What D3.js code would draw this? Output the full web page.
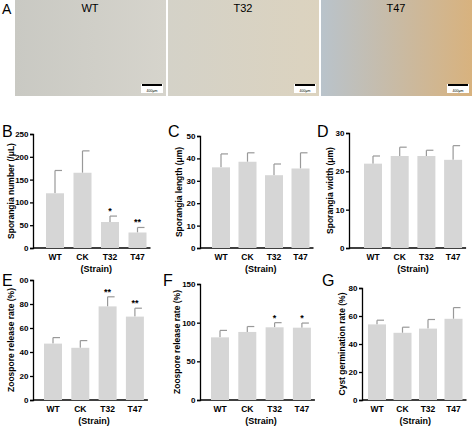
<!DOCTYPE html><html><head><meta charset="utf-8"><script src="https://cdn.jsdelivr.net/npm/d3@7"></script>
<style>body{margin:0;background:#fff}text{font-family:Arial,"Liberation Sans",sans-serif}</style></head><body><svg id="c" width="474" height="430"></svg>
<script>
const categories=["WT","CK","T32","T47"];
const imgTitles=["WT","T32","T47"];
const bMean=[120,165,57,34], bErr=[50,48,13,11], bSig=["","","*","**"];
const cMean=[36,38.5,32.5,35.5], cErr=[6,4,5,7];
const dMean=[22,24,24,23], dErr=[2,2.3,1.5,3.7];
const eMean=[47,43.5,78,69.5], eErr=[5,6,8,7], eSig=["","","**","**"];
const fMean=[81,88,94,93.5], fErr=[9,7,6,6], fSig=["","","*","*"];
const gMean=[54,48,51,58], gErr=[3,4,6.5,8];
const bTicks=[0,50,100,150,200,250], cTicks=[0,10,20,30,40,50], dTicks=[0,10,20,30];
const eTicks=[0,20,40,60,80,100], fTicks=[0,50,100,150], gTicks=[0,20,40,60,80];
const svg=d3.select("#c");
const defs=svg.append("defs");
const grads=[["#c9c9c3","#d6d4cc"],["#d4d2c8","#dcd3bf"],["#b9c3cb","#d8b27e"]];
grads.forEach((g,i)=>{const lg=defs.append("linearGradient").attr("id","g"+i);lg.append("stop").attr("offset","0").attr("stop-color",g[0]);lg.append("stop").attr("offset","1").attr("stop-color",g[1]);});
const ix=[15,168,321];
imgTitles.forEach((t,i)=>{
 svg.append("rect").attr("x",ix[i]).attr("y",0).attr("width",151).attr("height",96).attr("fill",`url(#g${i})`);
 svg.append("text").attr("x",ix[i]+75).attr("y",12).attr("text-anchor","middle").attr("font-size",11).text(t);
 svg.append("rect").attr("x",ix[i]+126).attr("y",84).attr("width",22).attr("height",9).attr("fill","#fff");
 svg.append("line").attr("x1",ix[i]+127).attr("x2",ix[i]+147).attr("y1",85).attr("y2",85).attr("stroke","#000").attr("stroke-width",2);
 svg.append("text").attr("x",ix[i]+137).attr("y",92).attr("text-anchor","middle").attr("font-size",3.5).text("400μm");
});
svg.append("text").attr("x",2).attr("y",14).attr("font-size",14).text("A");
function panel(o){
 const g=svg.append("g");
 const y=d3.scaleLinear().domain([0,o.max]).range([o.y0,o.y1]);
 const x=d3.scalePoint().domain(categories).range([o.x0+o.off,o.x0+o.off+o.sp*3]);
 const bw=18;
 const ax=g.append("g").attr("transform",`translate(${o.x0},0)`).call(d3.axisLeft(y).tickValues(o.ticks).tickSize(3).tickPadding(1.5).tickFormat(o.fmt||d3.format("d")));
 ax.select(".domain").attr("stroke-width",1.3);
 ax.selectAll("text").attr("font-size",8).attr("font-weight","bold").attr("fill","#000");
 ax.selectAll(".tick line").attr("stroke-width",1.3);
 g.append("line").attr("x1",o.x0).attr("x2",o.x0+o.off+o.sp*3+13).attr("y1",o.y0).attr("y2",o.y0).attr("stroke","#000").attr("stroke-width",1.3);
 categories.forEach((c,i)=>{
  const cx=x(c);
  g.append("line").attr("x1",cx).attr("x2",cx).attr("y1",y(o.m[i])).attr("y2",y(o.m[i]+o.e[i])).attr("stroke","#999").attr("stroke-width",1.2);
  g.append("line").attr("x1",cx).attr("x2",cx+7).attr("y1",y(o.m[i]+o.e[i])).attr("y2",y(o.m[i]+o.e[i])).attr("stroke","#999").attr("stroke-width",1.2);
  g.append("rect").attr("x",cx-bw/2).attr("y",y(o.m[i])).attr("width",bw).attr("height",o.y0-y(o.m[i])).attr("fill","#d6d6d6");
  g.append("text").attr("x",cx).attr("y",o.y0+12).attr("text-anchor","middle").attr("font-size",8.5).attr("font-weight","bold").text(c);
  if(o.sig&&o.sig[i]) g.append("text").attr("x",cx).attr("y",y(o.m[i]+o.e[i])-2).attr("text-anchor","middle").attr("font-size",9).attr("font-weight","bold").text(o.sig[i]);
 });
 g.append("text").attr("x",(x("CK")+x("T32"))/2).attr("y",o.y0+24).attr("text-anchor","middle").attr("font-size",9).attr("font-weight","bold").text("(Strain)");
 g.append("text").attr("transform",`translate(${o.lx},${(o.y0+o.y1)/2}) rotate(-90)`).attr("text-anchor","middle").attr("font-size",8.5).attr("font-weight","bold").text(o.label);
 g.append("text").attr("x",o.Lx).attr("y",o.Ly).attr("font-size",16).text(o.L);
 if(o.tag) g.append("text").attr("x",o.x0+10).attr("y",o.y1+17).attr("font-size",13).attr("font-weight","bold").attr("font-family","Liberation Serif,serif").text(o.tag);
}
panel({x0:33,y0:248,y1:134,max:250,ticks:bTicks,m:bMean,e:bErr,sig:bSig,off:22,sp:27.5,label:"Sporangia number (/μL)",L:"B",lx:14,Lx:2,Ly:137});
panel({x0:200,y0:248,y1:136,max:50,ticks:cTicks,m:cMean,e:cErr,off:21,sp:26.5,label:"Sporangia length (μm)",L:"C",lx:182,Lx:168,Ly:137});
panel({x0:349,y0:248,y1:133,max:30,ticks:dTicks,m:dMean,e:dErr,off:24,sp:26.7,label:"Sporangia width (μm)",L:"D",lx:333,Lx:317,Ly:137});
panel({x0:33,y0:400,y1:280,max:100,ticks:eTicks,m:eMean,e:eErr,sig:eSig,off:20,sp:27.3,label:"Zoospore release rate (%)",L:"E",lx:14,Lx:2,Ly:286,fmt:d=>d===100?"00":d});
panel({x0:200,y0:400,y1:284,max:150,ticks:fTicks,m:fMean,e:fErr,sig:fSig,off:20,sp:27.3,label:"Zoospore release rate (%)",L:"F",lx:180,Lx:163,Ly:286});
panel({x0:362,y0:400,y1:288,max:80,ticks:gTicks,m:gMean,e:gErr,off:15,sp:25.5,label:"Cyst germination rate (%)",L:"G",lx:345,Lx:322,Ly:286});
</script></body></html>
